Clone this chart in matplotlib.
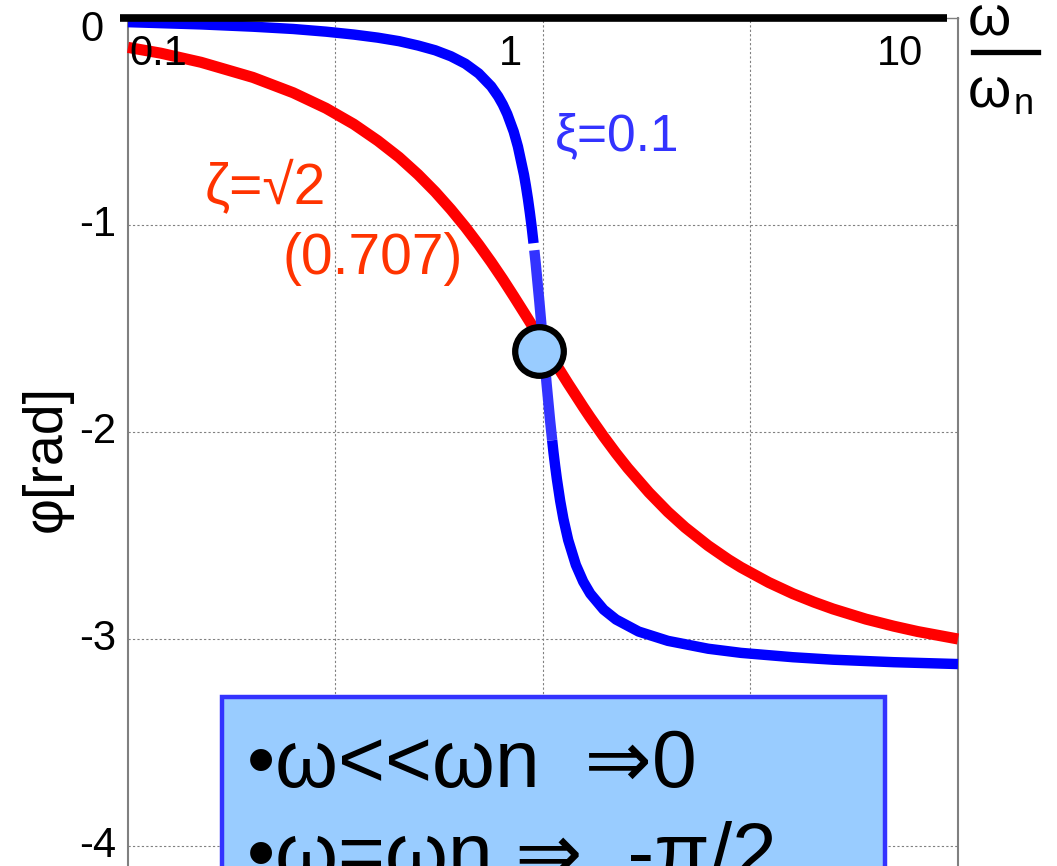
import matplotlib.pyplot as plt
from matplotlib.lines import Line2D
from matplotlib.patches import Rectangle

plt.rcParams['font.family'] = ['Liberation Sans', 'DejaVu Sans']

# frequency ratio w/wn and phase lag [rad], zeta = 0.707
r_red = [0.1, 0.12, 0.15, 0.2, 0.25, 0.3, 0.35, 0.4, 0.45, 0.5, 0.55, 0.6, 0.65,
         0.7, 0.75, 0.8, 0.85, 0.9, 0.95, 1.0, 1.05, 1.1, 1.15, 1.2, 1.25, 1.3,
         1.4, 1.5, 1.6, 1.8, 2, 2.2, 2.5, 2.8, 3, 3.5, 4, 4.5, 5, 6, 7, 8, 10]
phi_red = [-0.142, -0.170, -0.214, -0.287, -0.361, -0.436, -0.513, -0.593,
           -0.673, -0.756, -0.840, -0.925, -1.010, -1.095, -1.179, -1.262,
           -1.344, -1.423, -1.498, -1.571, -1.640, -1.705, -1.767, -1.824,
           -1.879, -1.930, -2.022, -2.103, -2.174, -2.292, -2.386, -2.461,
           -2.549, -2.617, -2.654, -2.727, -2.781, -2.822, -2.855, -2.904,
           -2.938, -2.964, -3.000]

# zeta = 0.1, split around the resonance
r_blue_lo = [0.1, 0.15, 0.2, 0.25, 0.3, 0.35, 0.4, 0.45, 0.5, 0.55, 0.6, 0.65,
             0.7, 0.75, 0.78, 0.8, 0.82, 0.85, 0.87, 0.9, 0.91, 0.92, 0.93,
             0.94, 0.9488]
phi_blue_lo = [-0.020, -0.031, -0.042, -0.053, -0.066, -0.080, -0.095, -0.112,
               -0.133, -0.156, -0.185, -0.221, -0.268, -0.330, -0.379, -0.418,
               -0.464, -0.549, -0.621, -0.758, -0.814, -0.875, -0.943, -1.016,
               -1.088]
r_blue_mid = [0.9529, 0.96, 0.98, 1.0, 1.02, 1.04, 1.0522]
phi_blue_mid = [-1.122, -1.183, -1.371, -1.571, -1.766, -1.944, -2.040]
r_blue_hi = [1.0522, 1.06, 1.07, 1.08, 1.1, 1.12, 1.15, 1.2, 1.25, 1.3, 1.4,
             1.5, 1.7, 2, 2.5, 3, 4, 5, 7, 10]
phi_blue_hi = [-2.040, -2.099, -2.166, -2.227, -2.333, -2.420, -2.522, -2.642,
               -2.723, -2.781, -2.858, -2.906, -2.964, -3.009, -3.047, -3.067,
               -3.088, -3.100, -3.112, -3.121]

# crossing marker
cross_r = [0.98]
cross_phi = [-1.61]

x_grid = [0.316, 1, 3.16]
y_grid = [-1, -2, -3, -4]
x_tick_vals = [0.1, 1, 10]
x_tick_text = ['0.1', '1', '10']
y_tick_vals = [0, -1, -2, -3, -4]
y_tick_text = ['0', '-1', '-2', '-3', '-4']

W, H = 1057, 866
fig = plt.figure(figsize=(W / 100, H / 100), dpi=100)
ax = fig.add_axes([128 / W, (848 - 4.3 * 207) / H, 830 / W, 4.3 * 207 / H])
ax.set_xscale('log')
ax.set_xlim(0.1, 10)
ax.set_ylim(-4.3, 0)

ax.set_xticks(x_grid)
ax.set_xticks([], minor=True)
ax.set_yticks(y_grid)
ax.set_xticklabels([])
ax.set_yticklabels([])
ax.tick_params(length=0, which='both')
ax.grid(True, color='#808080', linestyle=(0, (2, 2)), linewidth=0.8)

for s in ['left', 'right']:
    ax.spines[s].set_color('#808080')
    ax.spines[s].set_linewidth(1.5)
ax.spines['top'].set_color('#808080')
ax.spines['top'].set_linewidth(1.0)
ax.spines['bottom'].set_visible(False)

line_kw = dict(solid_capstyle='butt', solid_joinstyle='round', clip_on=False)
ax.plot(r_red, phi_red, color='#ff0000', lw=8, zorder=3, **line_kw)
ax.plot(r_blue_lo, phi_blue_lo, color='#0000ff', lw=7.5, zorder=4, **line_kw)
ax.plot(r_blue_hi, phi_blue_hi, color='#0000ff', lw=7.5, zorder=4, **line_kw)
ax.plot(r_blue_mid, phi_blue_mid, color='#3333ff', lw=7.5, zorder=4, **line_kw)
ax.plot(cross_r, cross_phi, 'o', ms=35, mfc='#99ccff', mec='black', mew=4.5, zorder=6)

# thick zero line along the top
ax.plot([-0.01, 0.987], [1, 1], color='black', lw=5.5, transform=ax.transAxes,
        clip_on=False, solid_capstyle='butt', zorder=5)

# tick labels
ax.annotate(x_tick_text[0], (x_tick_vals[0], 0), xytext=(1, -16), textcoords='offset pixels',
            ha='left', va='top', fontsize=30)
ax.annotate(x_tick_text[1], (x_tick_vals[1], 0), xytext=(-21, -16), textcoords='offset pixels',
            ha='right', va='top', fontsize=30)
ax.annotate(x_tick_text[2], (x_tick_vals[2], 0), xytext=(-35, -16), textcoords='offset pixels',
            ha='right', va='top', fontsize=30)
ax.annotate(y_tick_text[0], (0.1, y_tick_vals[0]), xytext=(-24, -12), textcoords='offset pixels',
            ha='right', va='center', fontsize=30)
for v, t in zip(y_tick_vals[1:], y_tick_text[1:]):
    ax.annotate(t, (0.1, v), xytext=(-12, 0), textcoords='offset pixels',
                ha='right', va='center', fontsize=30)

# curve labels
ax.text(0.153, -0.894, 'ζ=√2', color='#ff3300', fontsize=41, ha='left', va='baseline')
ax.text(0.236, -1.237, '(0.707)', color='#ff3300', fontsize=41, ha='left', va='baseline')
ax.text(1.069, -0.638, 'ξ=0.1', color='#3333ff', fontsize=37, ha='left', va='baseline')

# axis titles
fig.text(47 / W, 1 - 458 / H, 'φ[rad]', rotation=90, ha='center', va='center', fontsize=40)
fig.text(989 / W, 1 - 35 / H, 'ω', ha='center', va='baseline', fontsize=40)
fig.add_artist(Line2D([973 / W, 1038 / W], [1 - 52 / H, 1 - 52 / H], color='black', lw=3.8))
fig.text(989 / W, 1 - 107 / H, 'ω', ha='center', va='baseline', fontsize=40)
fig.text(1024 / W, 1 - 105 / H, 'n', ha='center', va='center', fontsize=26)

# summary box
fig.add_artist(Rectangle((222 / W, -0.05), (885 - 222) / W, (866 - 697) / H + 0.05,
                         facecolor='#99ccff', edgecolor='#3333ff', lw=3.2, zorder=7))
fig.text(247 / W, 1 - 787 / H, '•ω<<ωn  ⇒0', fontsize=58, ha='left', va='baseline', zorder=8)
fig.text(247 / W, 1 - 880 / H, '•ω=ωn ⇒  -π/2', fontsize=58, ha='left', va='baseline', zorder=8)

fig.savefig('out.png', dpi=100)
